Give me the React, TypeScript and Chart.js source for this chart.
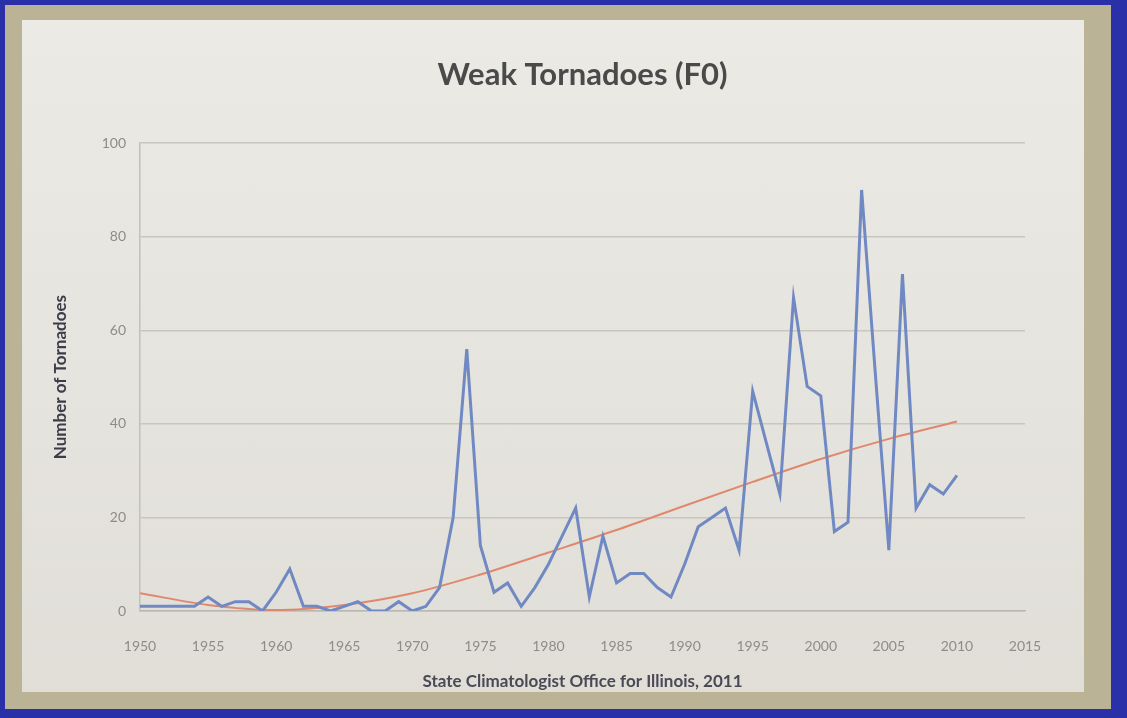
import React, { useEffect, useRef } from "react";
import { Chart, registerables } from "chart.js";

Chart.register(...registerables);

const years = [
  1950, 1951, 1952, 1953, 1954, 1955, 1956, 1957, 1958, 1959,
  1960, 1961, 1962, 1963, 1964, 1965, 1966, 1967, 1968, 1969,
  1970, 1971, 1972, 1973, 1974, 1975, 1976, 1977, 1978, 1979,
  1980, 1981, 1982, 1983, 1984, 1985, 1986, 1987, 1988, 1989,
  1990, 1991, 1992, 1993, 1994, 1995, 1996, 1997, 1998, 1999,
  2000, 2001, 2002, 2003, 2004, 2005, 2006, 2007, 2008, 2009,
  2010,
];

const tornadoes = [
  1, 1, 1, 1, 1, 3, 1, 2, 2, 0,
  4, 9, 1, 1, 0, 1, 2, 0, 0, 2,
  0, 1, 5, 20, 56, 14, 4, 6, 1, 5,
  10, 16, 22, 3, 16, 6, 8, 8, 5, 3,
  10, 18, 20, 22, 13, 47, 36, 25, 67, 48,
  46, 17, 19, 90, 51, 13, 72, 22, 27, 25,
  29,
];

const trendYears = [1950, 1955, 1960, 1965, 1970, 1975, 1980, 1985, 1990, 1995, 2000, 2005, 2010];
const trendValues = [3.8, 1.3, 0.2, 1.3, 3.8, 7.8, 12.5, 17.3, 22.5, 27.6, 32.5, 36.8, 40.5];

const xTicks = [1950, 1955, 1960, 1965, 1970, 1975, 1980, 1985, 1990, 1995, 2000, 2005, 2010, 2015];
const yTicks = [0, 20, 40, 60, 80, 100];

const titleText = "Weak Tornadoes (F0)";
const yTitle = "Number of Tornadoes";
const xTitle = "State Climatologist Office for Illinois, 2011";

const W = 1062;
const H = 672;

export default function App() {
  const ref = useRef<HTMLCanvasElement | null>(null);

  useEffect(() => {
    if (!ref.current) return;
    const chart = new Chart(ref.current, {
      type: "line",
      data: {
        datasets: [
          {
            label: "F0",
            data: years.map((y, i) => ({ x: y, y: tornadoes[i] })),
            borderColor: "#7189c3",
            borderWidth: 3,
            pointRadius: 0,
            tension: 0,
            fill: false,
          },
          {
            label: "Trend",
            data: trendYears.map((y, i) => ({ x: y, y: trendValues[i] })),
            borderColor: "#e0886e",
            borderWidth: 2,
            pointRadius: 0,
            cubicInterpolationMode: "monotone",
            fill: false,
          },
        ],
      },
      options: {
        responsive: false,
        animation: false,
        layout: { padding: { left: 22, right: 59, top: 0, bottom: 0 } },
        plugins: {
          legend: { display: false },
          tooltip: { enabled: false },
          title: {
            display: true,
            text: titleText,
            fullSize: false,
            color: "#4a4a4a",
            font: { family: "Lato", size: 31, weight: "bold" },
            padding: { top: 36, bottom: 50 },
          },
        },
        scales: {
          x: {
            type: "linear",
            min: 1950,
            max: 2015,
            afterBuildTicks: (s: any) => {
              s.ticks = xTicks.map((v) => ({ value: v }));
            },
            afterFit: (s: any) => {
              s.height = 81;
            },
            grid: { display: false, drawTicks: false },
            border: { display: true, color: "#b9b7b0", width: 1.5 },
            ticks: {
              color: "#8e8c86",
              font: { family: "Lato", size: 14 },
              padding: 27,
              maxRotation: 0,
              autoSkip: false,
              callback: (v: any) => String(v),
            },
            title: {
              display: true,
              text: xTitle,
              color: "#4a4a55",
              font: { family: "Lato", size: 17, weight: "bold" },
              padding: { top: 0, bottom: 0 },
            },
          },
          y: {
            type: "linear",
            min: 0,
            max: 100,
            afterBuildTicks: (s: any) => {
              s.ticks = yTicks.map((v) => ({ value: v }));
            },
            afterFit: (s: any) => {
              s.width = 96;
            },
            grid: { color: "#c9c6bf", lineWidth: 1.5, drawTicks: false },
            border: { display: true, color: "#c2c0b9", width: 1.5 },
            ticks: {
              color: "#8e8c86",
              font: { family: "Lato", size: 14 },
              padding: 14,
              callback: (v: any) => String(v),
            },
            title: {
              display: true,
              text: yTitle,
              color: "#3c3c4a",
              font: { family: "Lato", size: 17, weight: "bold" },
              padding: { top: 6, bottom: 0 },
            },
          },
        },
      },
    });
    return () => chart.destroy();
  }, []);

  return (
    <div
      style={{
        position: "fixed",
        left: 0,
        top: 0,
        width: 1127,
        height: 718,
        background: "#2a30a8",
        overflow: "hidden",
      }}
    >
      <div
        style={{
          position: "absolute",
          left: 5,
          top: 5,
          width: 1106,
          height: 704,
          background: "#bab396",
        }}
      />
      <div
        style={{
          position: "absolute",
          left: 22,
          top: 20,
          width: W,
          height: H,
          background: "linear-gradient(180deg, #ebeae5 0%, #e5e3dd 60%, #e0ded7 100%)",
        }}
      >
        <canvas ref={ref} width={W} height={H} style={{ display: "block", width: W, height: H }} />
      </div>
    </div>
  );
}
